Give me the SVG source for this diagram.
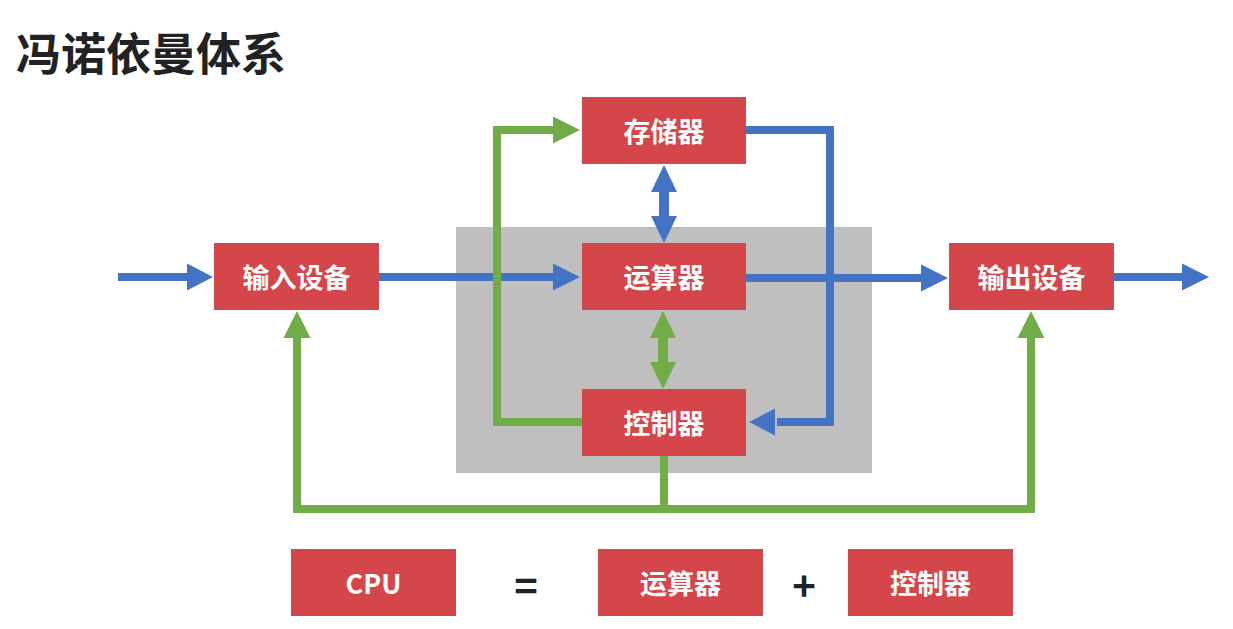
<svg xmlns="http://www.w3.org/2000/svg" width="1233" height="629" viewBox="0 0 1233 629">
<style>
.box{fill:#D5464A}
.lbl{font-family:"Noto Sans CJK SC","Noto Sans",sans-serif;font-weight:bold;font-size:27px;fill:#fff;text-anchor:middle;dominant-baseline:central}
.blue{stroke:#4472C4;stroke-width:8;fill:none}
.green{stroke:#70AD47;stroke-width:8;fill:none}
.bh{fill:#4472C4}
.gh{fill:#70AD47}
.op{font-family:"Noto Sans CJK SC","Noto Sans",sans-serif;font-weight:bold;font-size:40px;fill:#222;text-anchor:middle;dominant-baseline:central}
</style>
<rect width="1233" height="629" fill="#fff"/>
<text x="16" y="71" font-family="'Noto Sans CJK SC',sans-serif" font-weight="bold" font-size="45" fill="#222">冯诺依曼体系</text>
<rect id="cpu-area" x="456" y="227" width="416" height="246" fill="#BFBFBF"/>
<g id="connectors">
  <line class="blue" x1="118" y1="277" x2="189" y2="277"/>
  <polygon class="bh" points="187,263.5 213,277 187,290.5"/>
  <line class="blue" x1="379" y1="277" x2="555" y2="277"/>
  <polygon class="bh" points="553,263.5 580,277 553,290.5"/>
  <line class="blue" x1="746" y1="278" x2="923" y2="278"/>
  <polygon class="bh" points="921,264.5 948,278 921,291.5"/>
  <line class="blue" x1="1114" y1="277" x2="1184" y2="277"/>
  <polygon class="bh" points="1182,263.5 1209,277 1182,290.5"/>
  <line x1="664" y1="190" x2="664" y2="218" stroke="#4472C4" stroke-width="10"/>
  <polygon class="bh" points="651,192 664,165 677,192"/>
  <polygon class="bh" points="651,216 664,243 677,216"/>
  <line x1="663" y1="336" x2="663" y2="364" stroke="#70AD47" stroke-width="10"/>
  <polygon class="gh" points="650,338 663,311 676,338"/>
  <polygon class="gh" points="650,362 663,389 676,362"/>
  <path class="blue" d="M746,130 H830 V422 H777"/>
  <polygon class="bh" points="775,408.5 749,422 775,435.5"/>
  <path class="green" d="M582,422 H497 V130 H555"/>
  <polygon class="gh" points="553,116.5 580,130 553,143.5"/>
  <path class="green" d="M664,456 V509"/>
  <path class="green" d="M297,336 V509 H1031 V336"/>
  <polygon class="gh" points="283.5,338 297,311 310.5,338"/>
  <polygon class="gh" points="1017.5,338 1031,311 1044.5,338"/>
</g>
<g id="input"><rect class="box" x="214" y="243" width="165" height="67"/><text class="lbl" x="296.5" y="276.5">输入设备</text></g>
<g id="memory"><rect class="box" x="582" y="97" width="164" height="67"/><text class="lbl" x="664" y="130.5">存储器</text></g>
<g id="alu"><rect class="box" x="582" y="243" width="164" height="67"/><text class="lbl" x="664" y="276.5">运算器</text></g>
<g id="control"><rect class="box" x="582" y="389" width="164" height="67"/><text class="lbl" x="664" y="422.5">控制器</text></g>
<g id="output"><rect class="box" x="949" y="243" width="165" height="67"/><text class="lbl" x="1031.5" y="276.5">输出设备</text></g>
<g id="cpu"><rect class="box" x="291" y="549" width="165" height="67"/><text class="lbl" x="373.5" y="582.5">CPU</text></g>
<text class="op" x="526" y="584">=</text>
<g id="alu2"><rect class="box" x="598" y="549" width="165" height="67"/><text class="lbl" x="680.5" y="582.5">运算器</text></g>
<text class="op" x="804" y="584">+</text>
<g id="control2"><rect class="box" x="848" y="549" width="165" height="67"/><text class="lbl" x="930.5" y="582.5">控制器</text></g>
</svg>
